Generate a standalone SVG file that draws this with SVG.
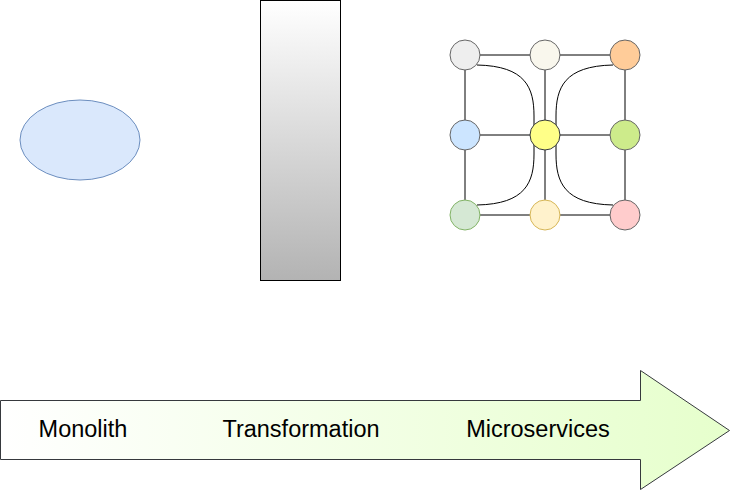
<svg xmlns="http://www.w3.org/2000/svg" width="730" height="492" viewBox="0 0 730 492">
<defs>
<linearGradient id="gRect" x1="0" y1="0" x2="0" y2="1"><stop offset="0" stop-color="#ffffff"/><stop offset="1" stop-color="#b3b3b3"/></linearGradient>
<linearGradient id="gArrow" x1="0" y1="0" x2="1" y2="0"><stop offset="0" stop-color="#ffffff"/><stop offset="1" stop-color="#e6ffcc"/></linearGradient>
</defs>
<style>
.edge{fill:none;stroke:#000;stroke-width:1}
.lbl{font-family:"Liberation Sans",Arial,sans-serif;font-size:23.5px;fill:#000;text-anchor:middle}
</style>
<rect width="730" height="492" fill="#fff"/>
<g id="monolith"><ellipse cx="80" cy="140" rx="60" ry="40" fill="#dae8fc" stroke="#6c8ebf"/></g>
<g id="transformation"><rect x="260.5" y="0.5" width="80" height="280" fill="url(#gRect)" stroke="#000"/></g>
<g id="arrow">
<path d="M0.5 400.5 H640.5 V370.5 L729.5 430.5 L640.5 489.5 V459.5 H0.5 Z" fill="url(#gArrow)" stroke="#36393d"/>
<text class="lbl" x="83" y="437">Monolith</text>
<text class="lbl" x="301" y="437">Transformation</text>
<text class="lbl" x="538" y="437">Microservices</text>
</g>
<g id="connectors">
<path class="edge" d="M465 55 H625 M465 135 H625 M465 215 H625 M465 55 V215 M545 55 V215 M625 55 V215"/>
<path class="edge" d="M477 65 C526 66 534 88 534 116 L534 154 C534 182 526 204 477 205"/>
<path class="edge" d="M613 65 C564 66 556 88 556 116 L556 154 C556 182 564 204 613 205"/>
</g>
<g id="n1"><circle cx="465" cy="55" r="15" fill="#eeeeee" stroke="#666"/></g>
<g id="n2"><circle cx="545" cy="55" r="15" fill="#f9f7ed" stroke="#666"/></g>
<g id="n3"><circle cx="625" cy="55" r="15" fill="#ffcc99" stroke="#666"/></g>
<g id="n4"><circle cx="465" cy="135" r="15" fill="#cce5ff" stroke="#666"/></g>
<g id="n5"><circle cx="545" cy="135" r="15" fill="#ffff88" stroke="#36393d"/></g>
<g id="n6"><circle cx="625" cy="135" r="15" fill="#cdeb8b" stroke="#666"/></g>
<g id="n7"><circle cx="465" cy="215" r="15" fill="#d5e8d4" stroke="#82b366"/></g>
<g id="n8"><circle cx="545" cy="215" r="15" fill="#fff2cc" stroke="#d6b656"/></g>
<g id="n9"><circle cx="625" cy="215" r="15" fill="#ffcccc" stroke="#666"/></g>
</svg>
